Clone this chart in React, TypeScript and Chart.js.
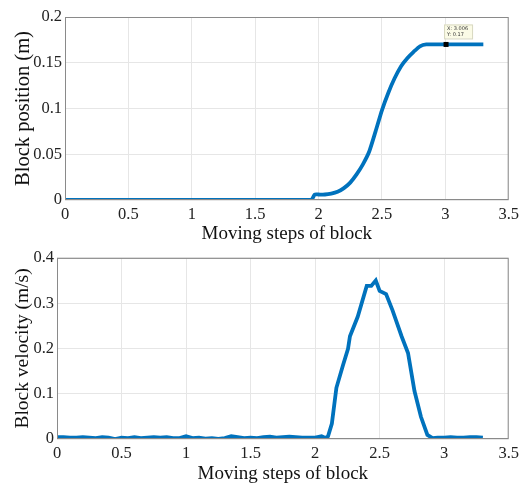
import React, { useEffect, useRef } from "react";
import { Chart, registerables } from "chart.js";

Chart.register(...registerables);

// Block position (top panel)
const posX = [0, 1.94, 1.97, 2.0, 2.05, 2.1, 2.15, 2.2, 2.25, 2.3, 2.35, 2.4, 2.45, 2.5, 2.55, 2.6, 2.65, 2.7, 2.75, 2.8, 2.85, 3.006, 3.3];
const posY = [0, 0, 0.006, 0.006, 0.006, 0.007, 0.009, 0.013, 0.019, 0.028, 0.039, 0.053, 0.075, 0.098, 0.117, 0.133, 0.146, 0.155, 0.162, 0.168, 0.17, 0.17, 0.17];

// Block velocity (bottom panel)
const velX = [0, 0.05, 0.1, 0.15, 0.2, 0.25, 0.3, 0.35, 0.4, 0.45, 0.5, 0.55, 0.6, 0.65, 0.7, 0.75, 0.8, 0.85, 0.9, 0.95, 1.0, 1.05, 1.1, 1.15, 1.2, 1.25, 1.3, 1.35, 1.4, 1.45, 1.5, 1.55, 1.6, 1.65, 1.7, 1.75, 1.8, 1.85, 1.9, 1.95, 2.0, 2.05, 2.08, 2.1, 2.13, 2.165, 2.216, 2.255, 2.27, 2.33, 2.4, 2.435, 2.47, 2.5, 2.55, 2.6, 2.67, 2.72, 2.77, 2.82, 2.87, 2.91, 2.95, 3.0, 3.05, 3.1, 3.15, 3.2, 3.25, 3.3];
const velY = [0.004, 0.004, 0.003, 0.003, 0.004, 0.003, 0.002, 0.004, 0.003, 0.0, 0.003, 0.002, 0.004, 0.002, 0.003, 0.004, 0.003, 0.004, 0.002, 0.002, 0.006, 0.002, 0.003, 0.001, 0.002, 0.0, 0.002, 0.006, 0.004, 0.002, 0.003, 0.002, 0.004, 0.005, 0.003, 0.004, 0.005, 0.004, 0.003, 0.003, 0.003, 0.006, 0.002, 0.006, 0.034, 0.113, 0.163, 0.199, 0.227, 0.27, 0.338, 0.338, 0.35, 0.327, 0.32, 0.284, 0.227, 0.19, 0.106, 0.049, 0.009, 0.002, 0.003, 0.003, 0.004, 0.003, 0.003, 0.004, 0.004, 0.003];

const xTicksMax = 3.5;
const tipX = 3.006;
const tipY = 0.17;

const LINE = "#0072BD";
const FONT = "'Liberation Serif', 'Times New Roman', serif";

const boxPlugin = {
  id: "boxPlugin",
  afterDraw(chart: any) {
    const { ctx, chartArea } = chart;
    ctx.save();
    ctx.strokeStyle = "#8a8a8a";
    ctx.lineWidth = 1;
    ctx.strokeRect(chartArea.left + 0.5, chartArea.top + 0.5, chartArea.right - chartArea.left - 1, chartArea.bottom - chartArea.top - 1);
    ctx.restore();
  },
};

const tipPlugin = {
  id: "tipPlugin",
  afterDraw(chart: any) {
    const { ctx, scales } = chart;
    const px = scales.x.getPixelForValue(tipX);
    const py = scales.y.getPixelForValue(tipY);
    ctx.save();
    ctx.fillStyle = "#000";
    ctx.fillRect(px - 2.5, py - 2.5, 5, 5);
    const bx = px - 2;
    const by = py - 20;
    ctx.fillStyle = "#fbfbe6";
    ctx.strokeStyle = "#d8d8c0";
    ctx.fillRect(bx, by, 28, 14);
    ctx.strokeRect(bx + 0.5, by + 0.5, 28, 14);
    ctx.fillStyle = "#333";
    ctx.font = "5px 'DejaVu Sans', sans-serif";
    ctx.textBaseline = "top";
    ctx.fillText("X: " + tipX.toFixed(3), bx + 3, by + 2);
    ctx.fillText("Y: " + tipY, bx + 3, by + 8);
    ctx.restore();
  },
};

const fmt = (v: any) => String(Math.round(Number(v) * 1000) / 1000);

function makeConfig(xs: number[], ys: number[], yMax: number, yStep: number, yTitle: string, yTitleSize: number, yWidth: number, xHeight: number, padTop: number, padRight: number, padLeft: number, tension: number, extra: any[]) {
  return {
    type: "line" as const,
    data: {
      datasets: [
        {
          data: xs.map((x, i) => ({ x, y: ys[i] })),
          borderColor: LINE,
          borderWidth: 3.8,
          pointRadius: 0,
          tension,
          fill: false,
        },
      ],
    },
    options: {
      animation: false,
      responsive: false,
      devicePixelRatio: 1,
      layout: { padding: { top: padTop, right: padRight, left: padLeft, bottom: 0 } },
      plugins: { legend: { display: false }, tooltip: { enabled: false } },
      scales: {
        x: {
          type: "linear",
          min: 0,
          max: xTicksMax,
          ticks: { stepSize: 0.5, color: "#222", font: { family: FONT, size: 16.5 }, padding: 5, maxRotation: 0, callback: fmt },
          grid: { color: "#e6e6e6", drawTicks: false },
          border: { display: false },
          title: { display: true, text: "Moving steps of block", color: "#111", font: { family: FONT, size: 19 }, padding: { top: 1, bottom: 0 } },
          afterFit(scale: any) {
            scale.height = xHeight;
          },
        },
        y: {
          type: "linear",
          min: 0,
          max: yMax,
          ticks: { stepSize: yStep, color: "#222", font: { family: FONT, size: 16.5 }, padding: 3, callback: fmt },
          grid: { color: "#e6e6e6", drawTicks: false },
          border: { display: false },
          title: { display: true, text: yTitle, color: "#111", font: { family: FONT, size: yTitleSize }, padding: { top: 0, bottom: 0 } },
          afterFit(scale: any) {
            scale.width = yWidth;
          },
        },
      },
    },
    plugins: [boxPlugin, ...extra],
  };
}

export default function App() {
  const topRef = useRef<HTMLCanvasElement>(null);
  const botRef = useRef<HTMLCanvasElement>(null);
  useEffect(() => {
    const c1 = new Chart(topRef.current as any, makeConfig(posX, posY, 0.2, 0.05, "Block position (m)", 20.5, 54, 45, 17, 12, 11, 0.2, [tipPlugin]) as any);
    const c2 = new Chart(botRef.current as any, makeConfig(velX, velY, 0.4, 0.1, "Block velocity (m/s)", 19.5, 46, 46, 10, 14, 11, 0, []) as any);
    return () => {
      c1.destroy();
      c2.destroy();
    };
  }, []);
  return (
    <div style={{ position: "fixed", left: 0, top: 0, width: 524, height: 485, background: "#fff" }}>
      <canvas ref={topRef} width={524} height={245} style={{ position: "absolute", left: 0, top: 0, width: 524, height: 245 }} />
      <canvas ref={botRef} width={524} height={240} style={{ position: "absolute", left: 0, top: 245, width: 524, height: 240 }} />
    </div>
  );
}
